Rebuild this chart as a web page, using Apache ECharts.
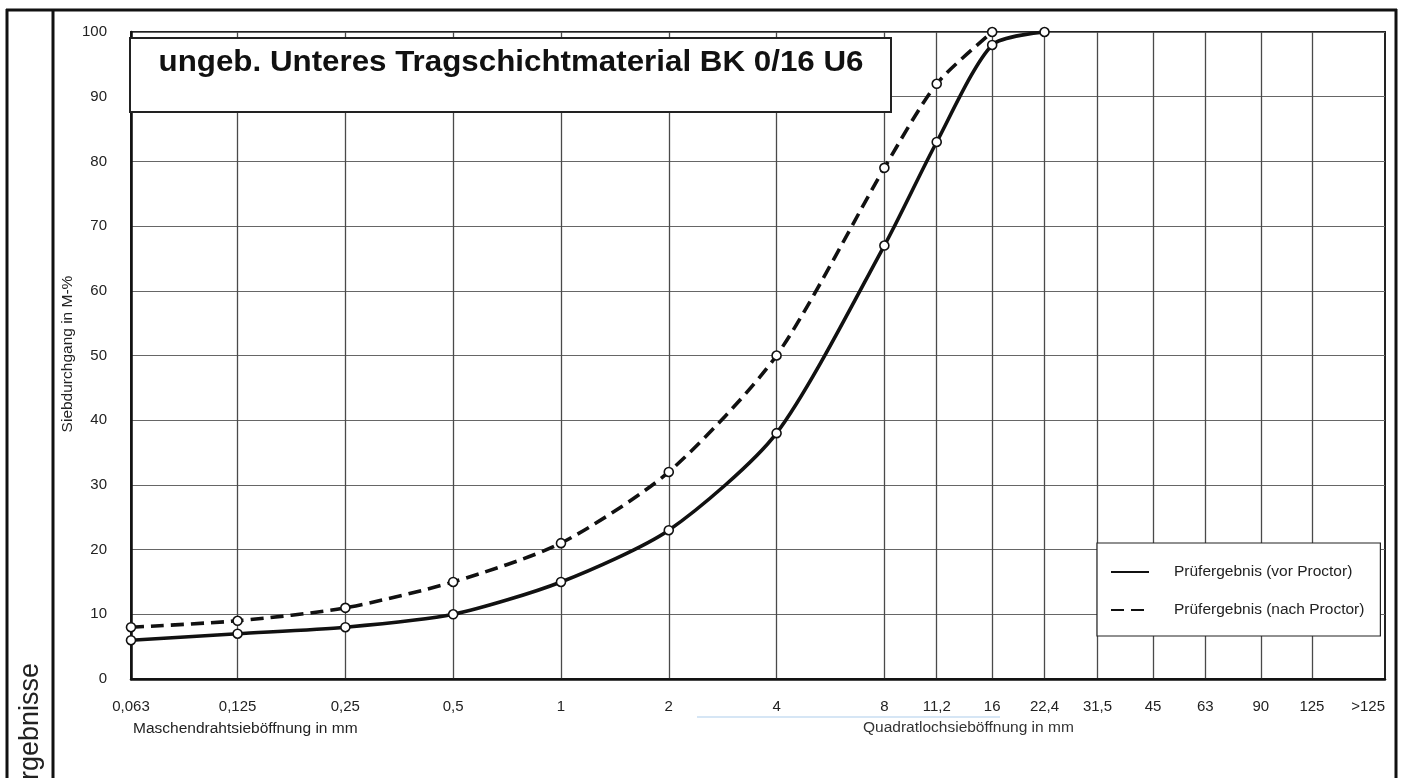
<!DOCTYPE html>
<html>
<head>
<meta charset="utf-8">
<script src="https://cdn.jsdelivr.net/npm/echarts@6/dist/echarts.min.js"></script>
<style>
html,body{margin:0;padding:0;background:#fff;}
#chart{width:1402px;height:778px;}
</style>
</head>
<body>
<div id="chart"></div>
<script>
// ---- data ----
const sieveSizes  = [0.063, 0.125, 0.25, 0.5, 1, 2, 4, 8, 11.2, 16, 22.4, 31.5, 45, 63, 90, 125];
const sieveLabels = ['0,063','0,125','0,25','0,5','1','2','4','8','11,2','16','22,4','31,5','45','63','90','125'];
const overSizeLabel = '>125';
const vorSizes   = [0.063, 0.125, 0.25, 0.5, 1, 2, 4, 8, 11.2, 16, 22.4];
const vorProctor = [6, 7, 8, 10, 15, 23, 38, 67, 83, 98, 100];
const nachSizes   = [0.063, 0.125, 0.25, 0.5, 1, 2, 4, 8, 11.2, 16];
const nachProctor = [8, 9, 11, 15, 21, 32, 50, 79, 92, 100];
const seriesNames = ['Prüfergebnis (vor Proctor)', 'Prüfergebnis (nach Proctor)'];
const titleText = 'ungeb. Unteres Tragschichtmaterial BK 0/16 U6';
const yAxisName = 'Siebdurchgang in M-%';
const xName1 = 'Maschendrahtsieböffnung in mm';
const xName2 = 'Quadratlochsieböffnung in mm';
const sideText = 'Ergebnisse';

// logarithmic sieve scale (base 2), nominal 0.0625 origin
const logPos = d => Math.log2(d / 0.0625);
const axisEndSize = 200;
const xMin = logPos(sieveSizes[0]);
const xMax = logPos(axisEndSize);
const tickPos = sieveSizes.map(logPos);

const FONT = '"Liberation Sans", Arial, sans-serif';
const chart = echarts.init(document.getElementById('chart'));

chart.setOption({
  backgroundColor: '#fff',
  animation: false,
  grid: {
    left: 131, right: 17, top: 32, bottom: 99,
    outerBoundsMode: 'none',
    show: true, borderColor: '#222', borderWidth: 2, backgroundColor: 'transparent'
  },
  xAxis: {
    type: 'value',
    min: xMin, max: xMax,
    axisLine: { show: true, onZero: false, lineStyle: { color: '#111', width: 2.5 } },
    axisTick: { show: false, customValues: tickPos },
    splitLine: { show: true, lineStyle: { color: '#4a4a4a', width: 1.3 } },
    axisLabel: {
      customValues: tickPos.concat([xMax]),
      margin: 20,
      alignMaxLabel: 'right',
      fontSize: 15, color: '#222', fontFamily: FONT,
      formatter: v => {
        if (Math.abs(v - xMax) < 1e-6) return overSizeLabel;
        const i = tickPos.findIndex(p => Math.abs(p - v) < 1e-6);
        return i >= 0 ? sieveLabels[i] : '';
      }
    }
  },
  yAxis: {
    type: 'value', min: 0, max: 100, interval: 10,
    axisLine: { show: true, lineStyle: { color: '#111', width: 2.5 } },
    axisTick: { show: false },
    splitLine: { show: true, lineStyle: { color: '#666', width: 1.2 } },
    axisLabel: { margin: 24, fontSize: 15, color: '#222', fontFamily: FONT }
  },
  legend: {
    orient: 'vertical', left: 1097, top: 543,
    padding: [21, 16, 18, 13],
    itemWidth: 38, itemHeight: 16, itemGap: 22,
    backgroundColor: '#fff', borderColor: '#222', borderWidth: 1.2,
    itemStyle: { opacity: 0 },
    textStyle: { fontSize: 15.5, color: '#222', fontFamily: FONT, padding: [0, 0, 0, 20] },
    data: seriesNames
  },
  series: [
    {
      name: seriesNames[0], type: 'line', smooth: 0.25,
      data: vorSizes.map((d, i) => [logPos(d), vorProctor[i]]),
      lineStyle: { color: '#111', width: 3.6 },
      itemStyle: { color: '#fff', borderColor: '#111', borderWidth: 1.6 },
      symbol: 'circle', symbolSize: 9, z: 5
    },
    {
      name: seriesNames[1], type: 'line', smooth: 0.25,
      data: nachSizes.map((d, i) => [logPos(d), nachProctor[i]]),
      lineStyle: { color: '#111', width: 3.6, type: [13, 7] },
      itemStyle: { color: '#fff', borderColor: '#111', borderWidth: 1.6 },
      symbol: 'circle', symbolSize: 9, z: 5
    }
  ],
  graphic: [
    { type: 'rect', z: 20, shape: { x: 130, y: 38, width: 761, height: 74 },
      style: { fill: '#fff', stroke: '#222', lineWidth: 2 } },
    { type: 'text', z: 21, x: 511, y: 63, scaleX: 1.08,
      style: { text: titleText, font: 'bold 29px ' + FONT, fill: '#111', align: 'center', verticalAlign: 'middle' } },
    { type: 'text', z: 21, x: 68, y: 354, rotation: Math.PI / 2,
      style: { text: yAxisName, font: '15.5px ' + FONT, fill: '#222', align: 'center', verticalAlign: 'middle' } },
    { type: 'text', z: 21, x: 133, y: 729,
      style: { text: xName1, font: '15.5px ' + FONT, fill: '#222', align: 'left', verticalAlign: 'middle' } },
    { type: 'text', z: 21, x: 863, y: 728,
      style: { text: xName2, font: '15.5px ' + FONT, fill: '#333', align: 'left', verticalAlign: 'middle' } },
    { type: 'line', z: 1, shape: { x1: 697, y1: 717, x2: 1000, y2: 717 },
      style: { stroke: '#d6e6f5', lineWidth: 2 } },
    { type: 'text', z: 21, x: 31, y: 663, rotation: Math.PI / 2,
      style: { text: sideText, font: '27px ' + FONT, fill: '#222', align: 'right', verticalAlign: 'middle' } },
    // outer frame
    { type: 'line', z: 21, shape: { x1: 6, y1: 10, x2: 1397, y2: 10 }, style: { stroke: '#111', lineWidth: 3 } },
    { type: 'line', z: 21, shape: { x1: 7, y1: 9, x2: 7, y2: 778 }, style: { stroke: '#111', lineWidth: 3 } },
    { type: 'line', z: 21, shape: { x1: 53, y1: 9, x2: 53, y2: 778 }, style: { stroke: '#111', lineWidth: 3 } },
    { type: 'line', z: 21, shape: { x1: 1396, y1: 9, x2: 1396, y2: 778 }, style: { stroke: '#111', lineWidth: 3 } }
  ]
});
</script>
</body>
</html>
